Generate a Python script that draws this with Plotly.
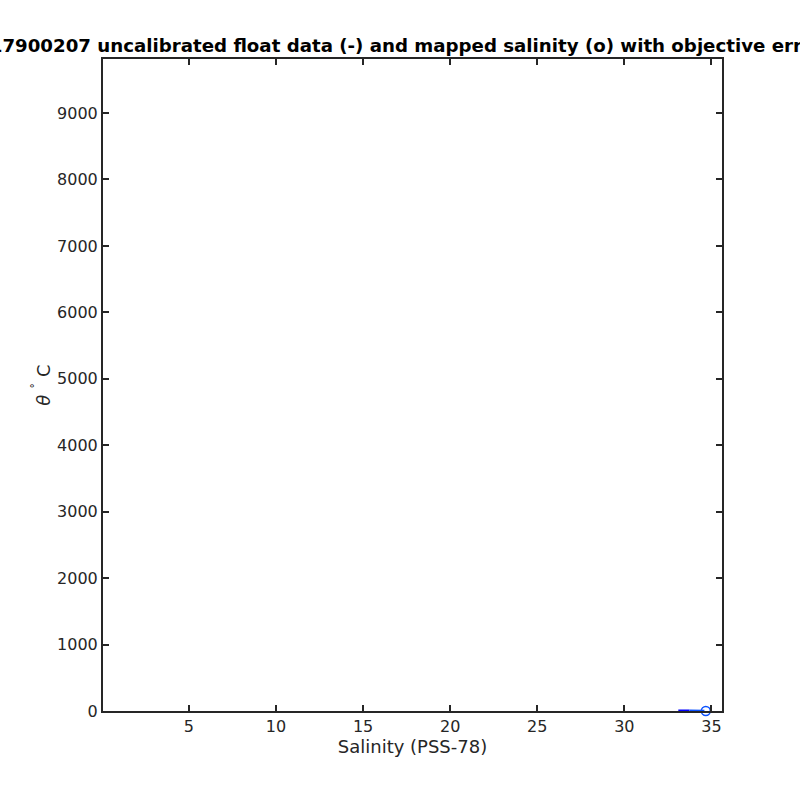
import plotly.graph_objects as go

# float profile (uncalibrated), two colour segments
sal_a = [33.10, 33.40, 33.74]
theta_a = [4.0, 3.0, 2.5]
sal_b = [33.74, 34.20, 34.60]
theta_b = [2.5, 1.5, 1.0]
# mapped salinity
map_sal = [34.68]
map_theta = [1.0]

title_text = "17900207 uncalibrated float data (-) and mapped salinity (o) with objective errors"

fig = go.Figure()
fig.add_trace(go.Scatter(x=sal_a, y=theta_a, mode="lines",
                         line=dict(color="#0000ff", width=2.5), showlegend=False))
fig.add_trace(go.Scatter(x=sal_b, y=theta_b, mode="lines",
                         line=dict(color="#0a50ff", width=2.5), showlegend=False))
fig.add_trace(go.Scatter(x=map_sal, y=map_theta, mode="markers", cliponaxis=False,
                         marker=dict(symbol="circle-open", size=9, color="#0a50ff",
                                     line=dict(width=1.5)), showlegend=False))

axis_common = dict(showline=True, linecolor="#262626", linewidth=2, mirror="ticks",
                   ticks="inside", ticklen=6, tickwidth=2, tickcolor="#262626",
                   showgrid=False, zeroline=False,
                   tickfont=dict(family="DejaVu Sans", size=16, color="#262626"))

fig.update_layout(
    width=800, height=800,
    paper_bgcolor="white", plot_bgcolor="white",
    margin=dict(l=103, r=78, t=59, b=89),
    title=dict(text="<b>" + title_text + "</b>", x=412/800, xanchor="center",
               y=1 - 46/800, yanchor="middle",
               font=dict(family="DejaVu Sans", size=18.2, color="black")),
    xaxis=dict(range=[0.066, 35.61], tickvals=[5, 10, 15, 20, 25, 30, 35],
               title=dict(text="Salinity (PSS-78)", standoff=4,
                          font=dict(family="DejaVu Sans", size=18, color="#262626")),
               **axis_common),
    yaxis=dict(range=[0, 9813], tickvals=list(range(0, 10000, 1000)),
               title=dict(text="<i>θ</i> <sup>˚</sup> C", standoff=2,
                          font=dict(family="DejaVu Sans", size=18, color="#262626")),
               **axis_common),
)

fig.write_html("out.html", config={"displayModeBar": False},
               post_script="document.body.style.margin='0';document.body.style.overflow='hidden';")
